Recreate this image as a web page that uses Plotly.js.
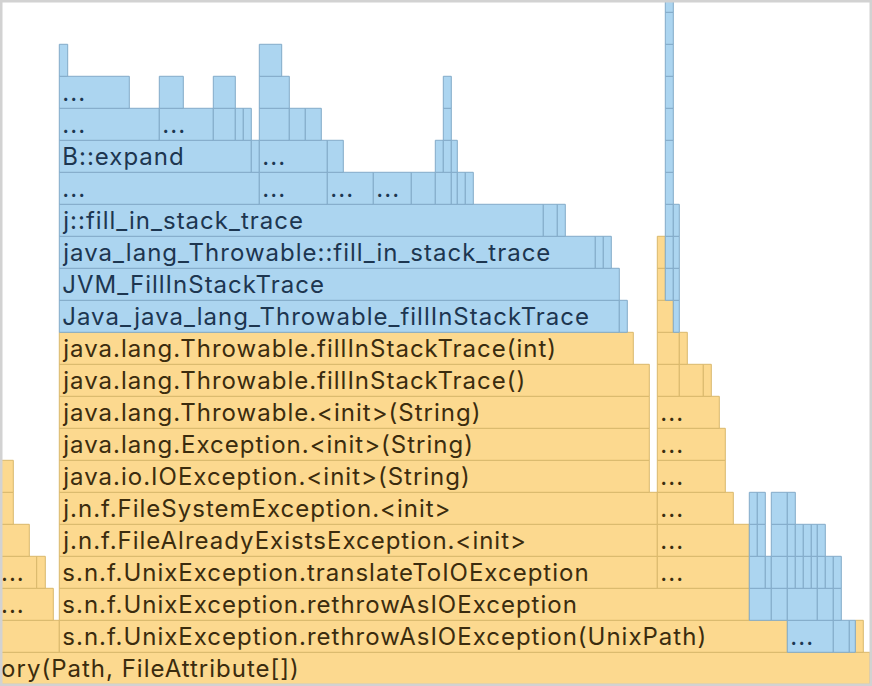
<!DOCTYPE html>
<html>
<head>
<meta charset="utf-8">
<script src="https://cdn.plot.ly/plotly-3.0.1.min.js"></script>
<style>
html, body { margin: 0; padding: 0; background: #ffffff; }
#chart { width: 872px; height: 686px; }
svg text.bartext { letter-spacing: 1px; }
</style>
</head>
<body>
<div id="chart"></div>
<script>
// ---- Flame graph frames (one entry per frame) ----
// stack depth of each frame (0 = bottom)
const frameDepth = [
  0,
  1, 1, 1, 1, 1, 1,
  2, 2, 2, 2, 2, 2, 2,
  3, 3, 3, 3, 3, 3, 3, 3, 3, 3, 3, 3, 3, 3,
  4, 4, 4, 4, 4, 4, 4, 4, 4, 4, 4,
  5, 5, 5, 5, 5, 5, 5,
  6, 6, 6,
  7, 7,
  8, 8,
  9, 9, 9, 9,
  10, 10, 10,
  11, 11, 11, 11,
  12, 12, 12, 12,
  13, 13, 13, 13, 13, 13,
  14, 14, 14, 14, 14,
  15, 15, 15, 15, 15, 15, 15, 15, 15, 15,
  16, 16, 16, 16, 16, 16, 16, 16,
  17, 17, 17, 17, 17, 17, 17, 17, 17, 17,
  18, 18, 18, 18, 18, 18,
  19, 19, 19,
  20,
  21
];
// first sample of each frame
const frameStart = [
  -512,
  -651, 59.3, 787.3, 833.3, 849.3, 855.3,
  -2, 59.3, 749.3, 771.3, 787.3, 817.3, 833.3,
  -2, 36.7, 59.3, 657.3, 749.3, 765.3, 771.3, 787.3, 795.3, 803.3, 811.3, 817.3, 825.3, 833.3,
  -2, 59.3, 657.3, 749.3, 757.3, 771.3, 787.3, 795.3, 803.3, 811.3, 817.3,
  -2, 59.3, 657.3, 749.3, 757.3, 771.3, 787.3,
  -2, 59.3, 657.3,
  59.3, 657.3,
  59.3, 657.3,
  59.3, 657.3, 679.3, 703.3,
  59.3, 657.3, 679.3,
  59.3, 619.3, 657.3, 673.3,
  59.3, 657.3, 665.3, 673.3,
  59.3, 595.3, 603.3, 657.3, 665.3, 673.3,
  59.3, 543.3, 557.3, 665.3, 673.3,
  59.3, 259.3, 327.3, 373.3, 411.3, 435.3, 451.3, 457.3, 465.3, 665.3,
  59.3, 251.3, 259.3, 327.3, 435.3, 443.3, 451.3, 665.3,
  59.3, 159.3, 213.3, 235.3, 243.3, 259.3, 289.3, 305.3, 443.3, 665.3,
  59.3, 159.3, 213.3, 259.3, 443.3, 665.3,
  59.3, 259.3, 665.3,
  665.3,
  665.3
];
// number of samples of each frame
const frameWidth = [
  1382,
  710.3, 728, 46, 16, 6, 8,
  55.3, 690, 22, 16, 30, 16, 8,
  38.7, 8.6, 598, 92, 16, 6, 16, 8, 8, 8, 6, 8, 8, 8,
  31.3, 598, 92, 8, 8, 16, 8, 8, 8, 6, 8,
  15.3, 598, 76, 8, 8, 16, 8,
  15.3, 590, 68,
  590, 68,
  590, 62,
  590, 22, 24, 8,
  574, 22, 8,
  560, 8, 16, 6,
  560, 8, 8, 6,
  536, 8, 8, 8, 8, 6,
  484, 14, 8, 8, 6,
  200, 68, 46, 38, 24, 16, 6, 8, 8, 8,
  192, 8, 68, 16, 8, 8, 6, 8,
  100, 54, 22, 8, 8, 30, 16, 16, 8, 8,
  70, 24, 22, 30, 8, 8,
  8.4, 22.4, 8,
  8,
  8
];
// J = Java frame (yellow), N = native frame (blue)
const frameKind = [
  'J',
  'J', 'J', 'N', 'N', 'N', 'J',
  'J', 'J', 'N', 'N', 'N', 'N', 'N',
  'J', 'J', 'J', 'J', 'N', 'N', 'N', 'N', 'N', 'N', 'N', 'N', 'N', 'N',
  'J', 'J', 'J', 'N', 'N', 'N', 'N', 'N', 'N', 'N', 'N',
  'J', 'J', 'J', 'N', 'N', 'N', 'N',
  'J', 'J', 'J',
  'J', 'J',
  'J', 'J',
  'J', 'J', 'J', 'J',
  'J', 'J', 'J',
  'N', 'N', 'J', 'N',
  'N', 'J', 'N', 'N',
  'N', 'N', 'N', 'J', 'N', 'N',
  'N', 'N', 'N', 'N', 'N',
  'N', 'N', 'N', 'N', 'N', 'N', 'N', 'N', 'N', 'N',
  'N', 'N', 'N', 'N', 'N', 'N', 'N', 'N',
  'N', 'N', 'N', 'N', 'N', 'N', 'N', 'N', 'N', 'N',
  'N', 'N', 'N', 'N', 'N', 'N',
  'N', 'N', 'N',
  'N',
  'N'
];
// frame labels ("..." where the name does not fit)
const frameLabel = [
  's.n.f.UnixFileSystemProvider.createDirectory(Path, FileAttribute[])',
  's.n.f.UnixNativeDispatcher.mkdir(UnixPath, int)', 's.n.f.UnixException.rethrowAsIOException(UnixPath)', '...', '', '', '',
  '...', 's.n.f.UnixException.rethrowAsIOException', '', '', '', '', '',
  '...', '', 's.n.f.UnixException.translateToIOException', '...', '', '', '', '', '', '', '', '', '', '',
  '', 'j.n.f.FileAlreadyExistsException.<init>', '...', '', '', '', '', '', '', '', '',
  '', 'j.n.f.FileSystemException.<init>', '...', '', '', '', '',
  '', 'java.io.IOException.<init>(String)', '...',
  'java.lang.Exception.<init>(String)', '...',
  'java.lang.Throwable.<init>(String)', '...',
  'java.lang.Throwable.fillInStackTrace()', '', '', '',
  'java.lang.Throwable.fillInStackTrace(int)', '', '',
  'Java_java_lang_Throwable_fillInStackTrace', '', '', '',
  'JVM_FillInStackTrace', '', '', '',
  'java_lang_Throwable::fill_in_stack_trace', '', '', '', '', '',
  'j::fill_in_stack_trace', '', '', '', '',
  '...', '...', '...', '...', '', '', '', '', '', '',
  'B::expand', '', '...', '', '', '', '', '',
  '...', '...', '', '', '', '', '', '', '', '',
  '...', '', '', '', '', '',
  '', '', '',
  '',
  ''
];

// ---- styling ----
const STYLE = {
  J: { fill: '#fcd98f', line: '#d9b86c', text: '#3b2c0e' },
  N: { fill: '#acd5f0', line: '#82aac8', text: '#1d3650' }
};
const FONT = 'Inter, "Noto Sans", "DejaVu Sans", sans-serif';

function makeTrace(kind) {
  const idx = frameKind.map((k, i) => k === kind ? i : -1).filter(i => i >= 0);
  const st = STYLE[kind];
  return {
    type: 'bar',
    orientation: 'h',
    y: idx.map(i => frameDepth[i]),
    x: idx.map(i => frameWidth[i]),
    base: idx.map(i => frameStart[i]),
    text: idx.map(i => frameLabel[i]),
    width: 1,
    textposition: 'inside',
    insidetextanchor: 'start',
    constraintext: 'none',
    textangle: 0,
    insidetextfont: { family: FONT, size: 24, color: st.text },
    marker: { color: st.fill, line: { color: st.line, width: 1 } },
    hoverinfo: 'skip',
    showlegend: false
  };
}

const data = [makeTrace('J'), makeTrace('N')];

const layout = {
  width: 872,
  height: 686,
  autosize: false,
  margin: { l: 0, r: 0, t: 0, b: 0, pad: 0 },
  paper_bgcolor: '#ffffff',
  plot_bgcolor: '#ffffff',
  barmode: 'overlay',
  uniformtext: { mode: 'show', minsize: 24 },
  showlegend: false,
  xaxis: { range: [0, 872], visible: false, fixedrange: true },
  yaxis: { range: [-0.553, 20.884], visible: false, fixedrange: true },
  shapes: [{
    type: 'rect', xref: 'paper', yref: 'paper', x0: 0, x1: 1, y0: 0, y1: 1,
    line: { color: '#d2d2d2', width: 5 }, fillcolor: 'rgba(0,0,0,0)', layer: 'above'
  }]
};

Plotly.newPlot('chart', data, layout, { staticPlot: true, displayModeBar: false });
</script>
</body>
</html>
